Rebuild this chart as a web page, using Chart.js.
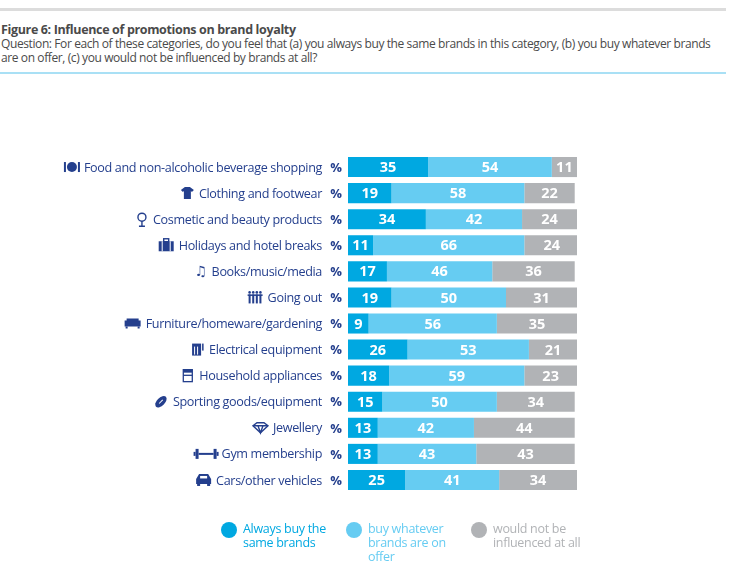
<!DOCTYPE html>
<html>
<head>
<meta charset="utf-8">
<script src="https://cdn.jsdelivr.net/npm/chart.js@4/dist/chart.umd.min.js"></script>
<style>
  body { margin: 0; background: #fff; font-family: "Open Sans", sans-serif; }
  #wrap { position: relative; width: 731px; height: 576px; overflow: hidden; }
  #chart { position: absolute; left: 0; top: 0; }
  .rule-top { position: absolute; left: 0; top: 8px; width: 726px; height: 3px; background: #dcdcdc; }
  .rule-blue { position: absolute; left: 0; top: 72px; width: 726px; height: 2px; background: #a9e0f5; }
  #title { position: absolute; left: 1px; top: 21px; font-size: 12.5px; font-weight: bold; color: #4a4a4a; letter-spacing: -0.35px; }
  #question { position: absolute; left: 1px; top: 37px; width: 725px; font-size: 12px; line-height: 13.5px; color: #4a4a4a; letter-spacing: -0.4px; }
  .leg { position: absolute; top: 522px; font-size: 12.5px; line-height: 14px; letter-spacing: -0.3px; }
  .leg .dot { position: absolute; left: -22px; top: 0px; width: 16px; height: 16px; border-radius: 50%; }
</style>
</head>
<body>
<div id="wrap">
  <div class="rule-top"></div>
  <div id="title">Figure 6: Influence of promotions on brand loyalty</div>
  <div id="question">Question: For each of these categories, do you feel that (a) you always buy the same brands in this category, (b) you buy whatever brands are on offer, (c) you would not be influenced by brands at all?</div>
  <div class="rule-blue"></div>
  <canvas id="chart" width="731" height="576"></canvas>
  <div id="legend"></div>
</div>
<script>
// データ
const categories = [
  "Food and non-alcoholic beverage shopping",
  "Clothing and footwear",
  "Cosmetic and beauty products",
  "Holidays and hotel breaks",
  "Books/music/media",
  "Going out",
  "Furniture/homeware/gardening",
  "Electrical equipment",
  "Household appliances",
  "Sporting goods/equipment",
  "Jewellery",
  "Gym membership",
  "Cars/other vehicles",
];
const alwaysSame = [35, 19, 34, 11, 17, 19, 9, 26, 18, 15, 13, 13, 25];
const whateverOffer = [54, 58, 42, 66, 46, 50, 56, 53, 59, 50, 42, 43, 41];
const notInfluenced = [11, 22, 24, 24, 36, 31, 35, 21, 23, 34, 44, 43, 34];
const seriesNames = ["Always buy the same brands", "buy whatever brands are on offer", "would not be influenced at all"];
const seriesColors = ["#00a8e1", "#66ccf2", "#b1b3b6"];
const iconKeys = ["food", "shirt", "mirror", "case", "music", "people", "sofa", "bin", "box", "ball", "gem", "gym", "car"];

const navy = "#243f8d";

// アイコン描画（簡易）
function drawIcon(ctx, key, x, y) {
  // x = 右端, y = 中心
  ctx.save();
  ctx.fillStyle = navy;
  ctx.strokeStyle = navy;
  ctx.lineWidth = 1.4;
  const l = x - 13;
  switch (key) {
    case "food":
      ctx.beginPath(); ctx.arc(x - 7, y, 5, 0, Math.PI * 2); ctx.fill();
      ctx.fillRect(x - 15, y - 5, 2, 10);
      ctx.fillRect(x - 1, y - 5, 2, 10);
      break;
    case "shirt":
      ctx.beginPath();
      ctx.moveTo(l, y - 3); ctx.lineTo(l + 4, y - 6); ctx.lineTo(l + 9, y - 6); ctx.lineTo(l + 13, y - 3);
      ctx.lineTo(l + 11, y - 1); ctx.lineTo(l + 10, y - 2); ctx.lineTo(l + 10, y + 6);
      ctx.lineTo(l + 3, y + 6); ctx.lineTo(l + 3, y - 2); ctx.lineTo(l + 2, y - 1); ctx.closePath(); ctx.fill();
      break;
    case "mirror":
      ctx.beginPath(); ctx.arc(x - 6, y - 2, 4, 0, Math.PI * 2); ctx.stroke();
      ctx.beginPath(); ctx.moveTo(x - 6, y + 2); ctx.lineTo(x - 6, y + 7); ctx.moveTo(x - 9, y + 7); ctx.lineTo(x - 3, y + 7); ctx.stroke();
      break;
    case "case":
      ctx.fillRect(x - 15, y - 4, 15, 10);
      ctx.strokeRect(x - 10, y - 6.5, 5, 3);
      ctx.fillStyle = "#fff"; ctx.fillRect(x - 12, y - 4, 1, 10); ctx.fillRect(x - 4, y - 4, 1, 10);
      break;
    case "music":
      ctx.font = "14px 'DejaVu Sans'"; ctx.textAlign = "right"; ctx.textBaseline = "middle";
      ctx.fillText("\u266B", x, y + 1);
      break;
    case "people":
      for (let k = 0; k < 4; k++) {
        const cx = x - 13 + k * 3.6;
        ctx.beginPath(); ctx.arc(cx, y - 5, 1.3, 0, Math.PI * 2); ctx.fill();
        ctx.fillRect(cx - 1, y - 3, 2, 9);
      }
      ctx.fillRect(x - 15, y - 3, 15, 1.5);
      break;
    case "sofa":
      ctx.fillRect(x - 16, y - 3, 16, 6);
      ctx.fillRect(x - 14, y - 5, 12, 3);
      ctx.fillRect(x - 15, y + 3, 2, 2); ctx.fillRect(x - 3, y + 3, 2, 2);
      break;
    case "bin":
      ctx.fillRect(x - 12, y - 6, 9, 12);
      ctx.fillRect(x - 2, y - 6, 1.5, 7);
      ctx.fillStyle = "#fff"; ctx.fillRect(x - 10, y - 3, 1, 8); ctx.fillRect(x - 7, y - 3, 1, 8);
      break;
    case "box":
      ctx.lineWidth = 1.3;
      ctx.strokeRect(x - 11, y - 6, 9, 12);
      ctx.fillRect(x - 11, y - 6, 9, 3);
      ctx.fillRect(x - 11, y - 1, 9, 1.3);
      break;
    case "ball":
      ctx.translate(x - 7, y); ctx.rotate(-Math.PI / 4);
      ctx.beginPath(); ctx.ellipse(0, 0, 7, 4, 0, 0, Math.PI * 2); ctx.fill();
      ctx.fillStyle = "#fff"; ctx.fillRect(-2.5, -0.5, 5, 1);
      break;
    case "gem":
      ctx.beginPath();
      ctx.moveTo(x - 15, y - 2); ctx.lineTo(x - 11, y - 5); ctx.lineTo(x - 4, y - 5); ctx.lineTo(x, y - 2);
      ctx.lineTo(x - 7.5, y + 5); ctx.closePath(); ctx.stroke();
      ctx.beginPath(); ctx.moveTo(x - 15, y - 2); ctx.lineTo(x, y - 2); ctx.moveTo(x - 10, y - 2); ctx.lineTo(x - 7.5, y + 5); ctx.lineTo(x - 5, y - 2); ctx.stroke();
      break;
    case "gym":
      ctx.fillRect(x - 21, y - 5, 3, 10); ctx.fillRect(x - 3, y - 5, 3, 10);
      ctx.fillRect(x - 18, y - 1, 15, 2);
      ctx.fillRect(x - 23, y - 2, 2, 4); ctx.fillRect(x, y - 2, 2, 4);
      break;
    case "car":
      ctx.beginPath();
      ctx.moveTo(x - 15, y + 4); ctx.lineTo(x - 15, y - 1); ctx.lineTo(x - 12, y - 6); ctx.lineTo(x - 3, y - 6);
      ctx.lineTo(x, y - 1); ctx.lineTo(x, y + 4); ctx.closePath(); ctx.fill();
      ctx.fillRect(x - 14, y + 3, 3, 3); ctx.fillRect(x - 4, y + 3, 3, 3);
      ctx.fillStyle = "#fff"; ctx.fillRect(x - 11, y - 4, 7, 2.5);
      break;
  }
  ctx.restore();
}

// カテゴリラベル + 数値ラベル
const labelPlugin = {
  id: "labelPlugin",
  afterDatasetsDraw(chart) {
    const ctx = chart.ctx;
    const yScale = chart.scales.y;
    ctx.save();
    ctx.textBaseline = "middle";
    categories.forEach((name, i) => {
      const y = yScale.getPixelForValue(i);
      ctx.fillStyle = navy;
      ctx.textAlign = "right";
      ctx.letterSpacing = "0px";
      ctx.font = "bold 13px 'Open Sans'";
      ctx.fillText("%", 342, y + 1);
      ctx.font = "12.6px 'Open Sans'";
      ctx.letterSpacing = "-0.35px";
      const w = ctx.measureText(name).width;
      ctx.fillText(name, 322, y + 1);
      drawIcon(ctx, iconKeys[i], 322 - w - 5, y);
    });
    // 数値
    ctx.letterSpacing = "0px";
    ctx.fillStyle = "#fff";
    ctx.textAlign = "center";
    ctx.font = "bold 14.5px 'Open Sans'";
    chart.data.datasets.forEach((ds, di) => {
      const meta = chart.getDatasetMeta(di);
      meta.data.forEach((bar, i) => {
        const cx = (bar.x + bar.base) / 2;
        ctx.fillText(String(ds.data[i]), cx, bar.y + 1);
      });
    });
    ctx.restore();
  },
};

new Chart(document.getElementById("chart"), {
  type: "bar",
  data: {
    labels: categories,
    datasets: [
      { label: seriesNames[0], data: alwaysSame, backgroundColor: seriesColors[0] },
      { label: seriesNames[1], data: whateverOffer, backgroundColor: seriesColors[1] },
      { label: seriesNames[2], data: notInfluenced, backgroundColor: seriesColors[2] },
    ],
  },
  options: {
    indexAxis: "y",
    responsive: false,
    animation: false,
    layout: { padding: { left: 348, right: 154, top: 154, bottom: 83 } },
    datasets: { bar: { categoryPercentage: 1, barPercentage: 0.77, borderWidth: 0 } },
    plugins: { legend: { display: false }, tooltip: { enabled: false } },
    scales: {
      x: { stacked: true, min: 0, max: 100, display: false },
      y: { stacked: true, display: false },
    },
  },
  plugins: [labelPlugin],
});

// 凡例
const legendPos = [[243, 110], [368, 96], [493, 100]];
const legendLines = [
  ["Always buy the", "same brands"],
  ["buy whatever", "brands are on", "offer"],
  ["would not be", "influenced at all"],
];
const legend = document.getElementById("legend");
seriesNames.forEach((name, i) => {
  const d = document.createElement("div");
  d.className = "leg";
  d.style.left = legendPos[i][0] + "px";
  d.style.width = legendPos[i][1] + "px";
  d.style.color = seriesColors[i];
  d.innerHTML = '<span class="dot" style="background:' + seriesColors[i] + '"></span>' + legendLines[i].join("<br>");
  legend.appendChild(d);
});
</script>
</body>
</html>
